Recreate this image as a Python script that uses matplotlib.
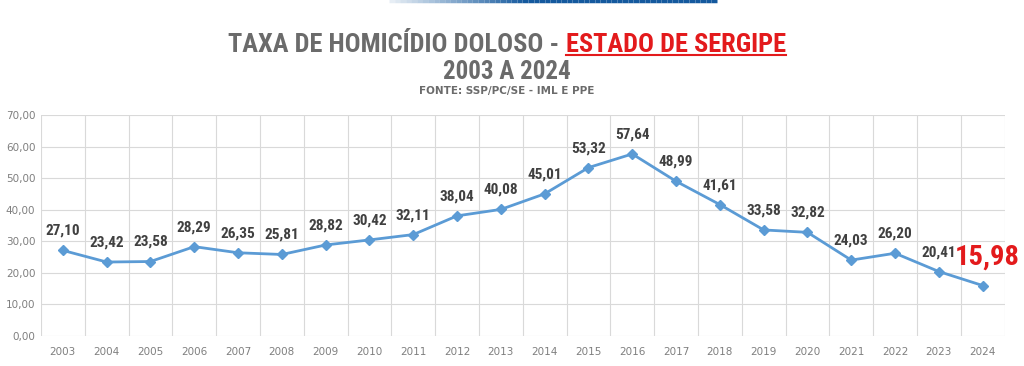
import matplotlib.pyplot as plt
import numpy as np
from matplotlib import font_manager
from matplotlib.collections import LineCollection
from matplotlib.ticker import MultipleLocator, FixedLocator

anos = list(range(2003, 2025))
taxas = [27.10, 23.42, 23.58, 28.29, 26.35, 25.81, 28.82, 30.42, 32.11, 38.04, 40.08,
         45.01, 53.32, 57.64, 48.99, 41.61, 33.58, 32.82, 24.03, 26.20, 20.41, 15.98]

available = {f.name for f in font_manager.fontManager.ttflist}
narrow = "Liberation Sans Narrow" if "Liberation Sans Narrow" in available else "Roboto Condensed" if "Roboto Condensed" in available else "Liberation Sans"

def fmt(v):
    return f"{v:.2f}".replace(".", ",")

fig = plt.figure(figsize=(10.24, 3.66), dpi=100)
ax = fig.add_axes([0.040, 0.082, 0.941, 0.604])

x = np.arange(len(anos))
ax.plot(x, taxas, color="#5b9bd5", lw=2, marker="D", ms=5, zorder=3)

ax.set_xlim(-0.5, len(anos) - 0.5)
ax.set_ylim(0, 70)
ax.yaxis.set_major_locator(MultipleLocator(10))
ax.set_xticks(x)
ax.set_xticklabels([str(a) for a in anos])
ax.xaxis.set_minor_locator(FixedLocator(np.arange(-0.5, len(anos), 1)))
ax.yaxis.set_major_formatter(plt.FuncFormatter(lambda v, p: fmt(v)))
ax.grid(axis="y", which="major", color="#d9d9d9", lw=0.8)
ax.grid(axis="x", which="minor", color="#d9d9d9", lw=0.8)
for s in ax.spines.values():
    s.set_visible(False)
ax.tick_params(axis="both", which="both", length=0)
ax.tick_params(axis="y", labelsize=7.5, labelcolor="#7f7f7f", pad=4)
ax.tick_params(axis="x", labelsize=7.5, labelcolor="#7f7f7f", pad=8)

for i, v in enumerate(taxas[:-1]):
    ax.annotate(fmt(v), (x[i], v), xytext=(0, 9), textcoords="offset points",
                ha="center", va="bottom", fontsize=11, fontweight="bold",
                color="#404040", family=narrow)
ax.annotate(fmt(taxas[-1]), (x[-1], taxas[-1]), xytext=(3, 11), textcoords="offset points",
            ha="center", va="bottom", fontsize=20.5, fontweight="bold",
            color="#e31a1c", family=narrow)

# titulo em duas cores
parte1 = fig.text(0, 0.877, "TAXA DE HOMICÍDIO DOLOSO - ", fontsize=19, fontweight="bold",
                  color="#6b6b6b", family=narrow, va="center", ha="left")
parte2 = fig.text(0, 0.877, "ESTADO DE SERGIPE", fontsize=19, fontweight="bold",
                  color="#e31a1c", family=narrow, va="center", ha="left")
fig.canvas.draw()
r = fig.canvas.get_renderer()
w1 = parte1.get_window_extent(r).width / fig.bbox.width
w2 = parte2.get_window_extent(r).width / fig.bbox.width
x0 = 0.495 - (w1 + w2) / 2
parte1.set_x(x0)
parte2.set_x(x0 + w1)
fig.canvas.draw()
bb = parte2.get_window_extent(r).transformed(fig.transFigure.inverted())
fig.add_artist(plt.Line2D([bb.x0, bb.x1], [bb.y0 + 0.006, bb.y0 + 0.006], color="#e31a1c", lw=1.5))

fig.text(0.495, 0.803, "2003 A 2024", fontsize=18, fontweight="bold", color="#6b6b6b",
         family=narrow, ha="center", va="center")
fig.text(0.495, 0.751, "FONTE: SSP/PC/SE - IML E PPE", fontsize=7.5, fontweight="bold",
         color="#6b6b6b", ha="center", va="center")

# faixa azul no topo (degrade)
xs = np.linspace(0.38, 0.70, 60)
segs = [[(xs[k], 0.997), (xs[k + 1], 0.997)] for k in range(len(xs) - 1)]
alphas = np.clip(np.concatenate([np.linspace(0.1, 1, 25), np.ones(34)]), 0, 1)
cols = [(0.08, 0.35, 0.62, a) for a in alphas]
fig.add_artist(LineCollection(segs, colors=cols, lw=2.5, transform=fig.transFigure))

fig.savefig("out.png", dpi=100)
